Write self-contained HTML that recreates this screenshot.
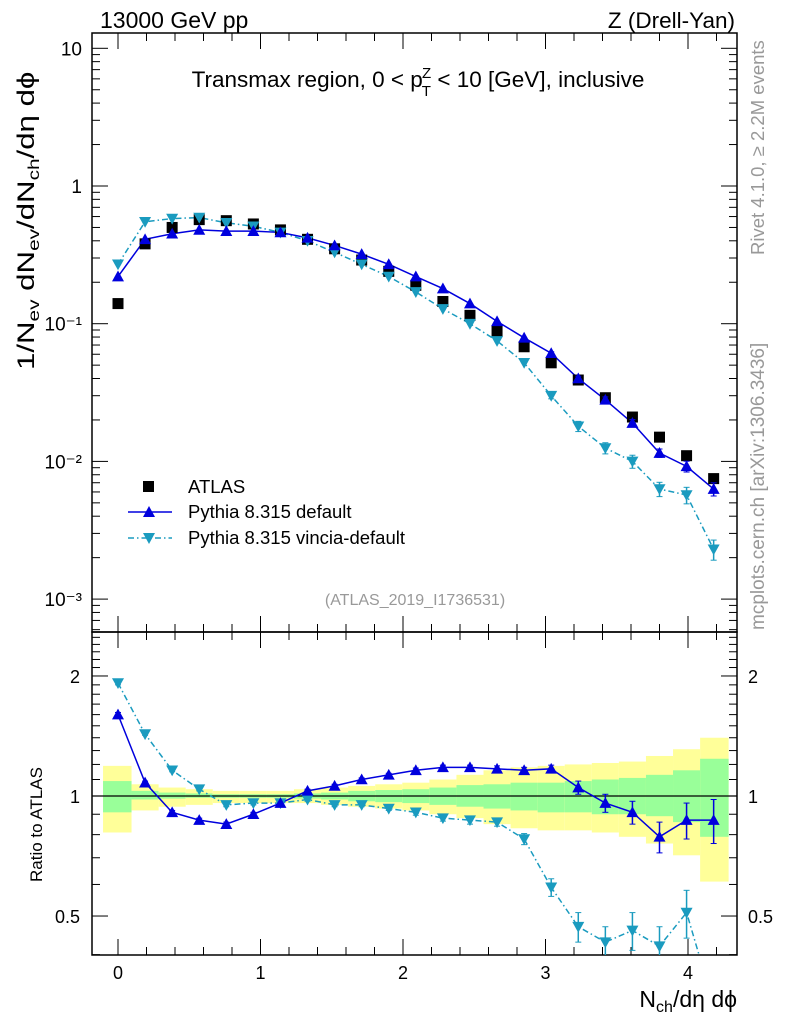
<!DOCTYPE html>
<html><head><meta charset="utf-8">
<style>
html,body{margin:0;padding:0;background:#fff;}
svg{display:block;font-family:"Liberation Sans",sans-serif;}
</style></head>
<body>
<svg id="chart" width="786" height="1024" viewBox="0 0 786 1024" xmlns="http://www.w3.org/2000/svg">
<rect x="0" y="0" width="786" height="1024" fill="#fff"/>
<g id="ratioBands"></g>
<g id="grid"></g>
<g id="series"></g>
<text x="100" y="28" font-size="23">13000 GeV pp</text>
<text x="735" y="28" font-size="22.5" text-anchor="end">Z (Drell-Yan)</text>
<text x="418" y="87" font-size="22.5" text-anchor="middle">Transmax region, 0 &lt; p<tspan font-size="15" dy="9" dx="-1">T</tspan><tspan font-size="15" dy="-18" dx="-9">Z</tspan><tspan dy="9"> &lt; 10 [GeV], inclusive</tspan></text>
<text x="415" y="605" font-size="16" fill="#999" text-anchor="middle">(ATLAS_2019_I1736531)</text>
<text transform="translate(764,255) rotate(-90)" font-size="18.5" fill="#999">Rivet 4.1.0, ≥ 2.2M events</text>
<text transform="translate(764,630) rotate(-90)" font-size="19" fill="#999">mcplots.cern.ch [arXiv:1306.3436]</text>
<text transform="translate(34,370) rotate(-90) scale(1.3,1)" font-size="24">1/N<tspan font-size="16" dy="5">ev</tspan><tspan dy="-5"> dN</tspan><tspan font-size="16" dy="5">ev</tspan><tspan dy="-5">/dN</tspan><tspan font-size="16" dy="5">ch</tspan><tspan dy="-5">/dη dϕ</tspan></text>
<text transform="translate(42,882) rotate(-90)" font-size="17">Ratio to ATLAS</text>
<text x="737" y="1007" font-size="23" text-anchor="end">N<tspan font-size="16" dy="5">ch</tspan><tspan dy="-5">/dη dϕ</tspan></text>
<g>
<rect x="143" y="481" width="11" height="11" fill="#000"/>
<text x="188" y="493" font-size="18.5">ATLAS</text>
<line x1="128" y1="512" x2="172" y2="512" stroke="#0000dd" stroke-width="1.5"/>
<polygon points="149,506 155,517 143,517" fill="#0000dd"/>
<text x="188" y="518" font-size="18.5">Pythia 8.315 default</text>
<line x1="128" y1="538" x2="172" y2="538" stroke="#1a9bbf" stroke-width="1.5" stroke-dasharray="6,3,1.5,3"/>
<polygon points="143,533 155,533 149,544" fill="#1a9bbf"/>
<text x="188" y="544" font-size="18.5">Pythia 8.315 vincia-default</text>
</g>
</svg>
<script>
const xs = [0,0.19,0.38,0.57,0.76,0.95,1.14,1.33,1.52,1.71,1.9,2.09,2.28,2.47,2.66,2.85,3.04,3.23,3.42,3.61,3.8,3.99,4.18];
const atlas = [0.14,0.38,0.50,0.57,0.56,0.53,0.48,0.41,0.35,0.29,0.24,0.19,0.145,0.115,0.088,0.068,0.052,0.039,0.029,0.021,0.015,0.011,0.0075];
const pythia = [0.22,0.41,0.45,0.48,0.47,0.47,0.46,0.42,0.37,0.32,0.27,0.22,0.18,0.14,0.104,0.079,0.061,0.040,0.028,0.019,0.0115,0.0092,0.0063];
const vincia = [0.27,0.55,0.58,0.59,0.54,0.51,0.46,0.40,0.33,0.27,0.22,0.17,0.128,0.10,0.075,0.052,0.030,0.018,0.0125,0.010,0.0063,0.0057,0.0023];
const pythiaRatio = [1.6,1.08,0.91,0.87,0.85,0.9,0.96,1.03,1.06,1.1,1.13,1.16,1.18,1.18,1.17,1.16,1.17,1.05,0.96,0.91,0.79,0.87,0.87];
const pythiaRatioErr = [0.02,0.01,0.01,0.01,0.01,0.01,0.01,0.01,0.01,0.01,0.01,0.015,0.015,0.015,0.02,0.02,0.025,0.04,0.05,0.06,0.07,0.09,0.11];
const vinciaRatio = [1.92,1.43,1.16,1.04,0.95,0.96,0.96,0.98,0.95,0.95,0.93,0.91,0.88,0.87,0.86,0.78,0.59,0.47,0.43,0.46,0.42,0.51,0.3];
const vinciaRatioErr = [0.02,0.01,0.01,0.01,0.01,0.01,0.01,0.01,0.01,0.01,0.01,0.015,0.015,0.02,0.02,0.025,0.03,0.04,0.04,0.05,0.05,0.07,0.05];
const yellowUp = [1.19,1.07,1.05,1.04,1.03,1.03,1.03,1.04,1.05,1.06,1.07,1.08,1.10,1.13,1.16,1.18,1.19,1.20,1.21,1.22,1.26,1.31,1.40];
const yellowDn = [0.81,0.92,0.94,0.95,0.96,0.96,0.96,0.96,0.95,0.94,0.93,0.92,0.90,0.88,0.85,0.83,0.82,0.82,0.81,0.79,0.76,0.71,0.61];
const greenUp = [1.09,1.03,1.02,1.015,1.01,1.01,1.01,1.015,1.02,1.03,1.035,1.04,1.05,1.065,1.07,1.08,1.08,1.09,1.10,1.11,1.13,1.16,1.24];
const greenDn = [0.91,0.98,0.985,0.99,0.99,0.99,0.99,0.985,0.98,0.97,0.965,0.96,0.95,0.94,0.93,0.92,0.91,0.91,0.90,0.90,0.89,0.86,0.79];
const xTicks = [0,1,2,3,4];
const mainYTicks = [10,1,0.1,0.01,0.001];
const mainYLabels = ["10","1","10⁻¹","10⁻²","10⁻³"];
const ratioYTicks = [2,1,0.5];
const ratioYLabels = ["2","1","0.5"];

const NS="http://www.w3.org/2000/svg";
const L=92,R=737,T=33,MB=632,RB=955;
const X=v=>118+(v)*142.5;
const YM=v=>186-Math.log10(v)*137.7;
const YR=v=>796-Math.log10(v)*398.7;
function mk(parent,tag,attrs){const e=document.createElementNS(NS,tag);for(const k in attrs)e.setAttribute(k,attrs[k]);parent.appendChild(e);return e;}
const bands=document.getElementById('ratioBands'),grid=document.getElementById('grid'),ser=document.getElementById('series');

xs.forEach((x,i)=>{
  const hw=i===0?0.105:0.095;
  const x1=X(x-hw), x2=Math.min(X(x+0.095+(i===22?0.01:0)),R);
  let r=mk(bands,'rect',{x:x1,y:YR(yellowUp[i]),width:x2-x1,height:YR(yellowDn[i])-YR(yellowUp[i]),fill:'#ffff99'});
  
  
  r=mk(bands,'rect',{x:x1,y:YR(greenUp[i]),width:x2-x1,height:YR(greenDn[i])-YR(greenUp[i]),fill:'#99ff99'});
  
  
});

[[T,MB],[MB,RB]].forEach(([a,b],k)=>{
  const f=mk(grid,'rect',{x:L,y:a,width:R-L,height:b-a,fill:'none',stroke:'#000','stroke-width':1.5});
  
  
  for(let v=-0.2;v<=4.3;v+=0.2){
    const px=X(v); if(px<L||px>R)continue;
    const major=Math.abs(v-Math.round(v))<1e-6; const len=major?16:8;
    mk(grid,'line',{x1:px,y1:b,x2:px,y2:b-len,stroke:'#000','stroke-width':1});
    mk(grid,'line',{x1:px,y1:a,x2:px,y2:a+len,stroke:'#000','stroke-width':1});
  }
});
const rl=mk(grid,'line',{x1:L,y1:YR(1),x2:R,y2:YR(1),stroke:'#000','stroke-width':1.2});


xTicks.forEach(v=>{
  const t=mk(grid,'text',{x:X(v),y:979,'font-size':18,'text-anchor':'middle'});t.textContent=v;
  
  
});
for(let d=-4;d<=1;d++){for(let m=1;m<10;m++){
  const v=m*Math.pow(10,d); const py=YM(v); if(py<T||py>MB)continue;
  const len=m===1?16:8;
  mk(grid,'line',{x1:L,y1:py,x2:L+len,y2:py,stroke:'#000'});
  mk(grid,'line',{x1:R,y1:py,x2:R-len,y2:py,stroke:'#000'});
}}
mainYTicks.forEach((v,i)=>{
  const t=mk(grid,'text',{x:82,y:YM(v)+7,'font-size':19,'text-anchor':'end'});t.textContent=mainYLabels[i];
  
  
});
for(let v=0.4;v<=2.6;v+=0.1){const py=YR(v);if(py<MB||py>RB)continue;
  const maj=[0.5,1,2].some(q=>Math.abs(q-v)<1e-6);const len=maj?16:8;
  mk(grid,'line',{x1:L,y1:py,x2:L+len,y2:py,stroke:'#000'});
  mk(grid,'line',{x1:R,y1:py,x2:R-len,y2:py,stroke:'#000'});
}
ratioYTicks.forEach((v,i)=>{
  [80,748].forEach((xx,j)=>{
  const t=mk(grid,'text',{x:xx,y:YR(v)+7,'font-size':18,'text-anchor':j?'start':'end'});t.textContent=ratioYLabels[i];
  
  
  });
});

const defs=mk(document.getElementById('chart'),'defs',{});
const c1=mk(defs,'clipPath',{id:'cm'});mk(c1,'rect',{x:L,y:T,width:R-L,height:MB-T});
const c2=mk(defs,'clipPath',{id:'cr'});mk(c2,'rect',{x:L,y:MB,width:R-L,height:RB-MB});
const gm=mk(ser,'g',{'clip-path':'url(#cm)'}), gr=mk(ser,'g',{'clip-path':'url(#cr)'});

function line(g,vals,Y,color,dash,name){
  const p=mk(g,'polyline',{points:xs.map((x,i)=>X(x)+','+Y(vals[i])).join(' '),fill:'none',stroke:color,'stroke-width':1.5});
  if(dash)p.setAttribute('stroke-dasharray','6,3,1.5,3');
  
  
}
function tri(g,x,y,up,color,name){
  const s=6;
  const pts=up?`${x},${y-s} ${x+s},${y+s*0.8} ${x-s},${y+s*0.8}`:`${x-s},${y-s*0.8} ${x+s},${y-s*0.8} ${x},${y+s}`;
  const p=mk(g,'polygon',{points:pts,fill:color});
  
  
}
function errbar(g,x,lo,hi,color){
  mk(g,'line',{x1:x,y1:lo,x2:x,y2:hi,stroke:color,'stroke-width':1.5});
  mk(g,'line',{x1:x-3,y1:lo,x2:x+3,y2:lo,stroke:color});
  mk(g,'line',{x1:x-3,y1:hi,x2:x+3,y2:hi,stroke:color});
}
const BLUE='#0000dd',CYAN='#1a9bbf';
line(gm,vincia,YM,CYAN,true,'vincia-line');
line(gm,pythia,YM,BLUE,false,'pythia-line');
line(gr,vinciaRatio,YR,CYAN,true,'vincia-ratio-line');
line(gr,pythiaRatio,YR,BLUE,false,'pythia-ratio-line');
xs.forEach((x,i)=>{
  const px=X(x);
  const r=mk(gm,'rect',{x:px-5.5,y:YM(atlas[i])-5.5,width:11,height:11,fill:'#000'});
  
  
  if(i>=16){errbar(gm,px,YM(pythia[i]*(1+pythiaRatioErr[i])),YM(pythia[i]*(1-pythiaRatioErr[i])),BLUE);
    errbar(gm,px,YM(vincia[i]*(1+vinciaRatioErr[i]/vinciaRatio[i])),YM(vincia[i]*(1-vinciaRatioErr[i]/vinciaRatio[i])),CYAN);}
  tri(gm,px,YM(vincia[i]),false,CYAN,'vincia-point');
  tri(gm,px,YM(pythia[i]),true,BLUE,'pythia-point');
  errbar(gr,px,YR(pythiaRatio[i]+pythiaRatioErr[i]),YR(pythiaRatio[i]-pythiaRatioErr[i]),BLUE);
  errbar(gr,px,YR(vinciaRatio[i]+vinciaRatioErr[i]),YR(vinciaRatio[i]-vinciaRatioErr[i]),CYAN);
  tri(gr,px,YR(vinciaRatio[i]),false,CYAN,'vincia-ratio-point');
  tri(gr,px,YR(pythiaRatio[i]),true,BLUE,'pythia-ratio-point');
});
</script>
</body></html>
